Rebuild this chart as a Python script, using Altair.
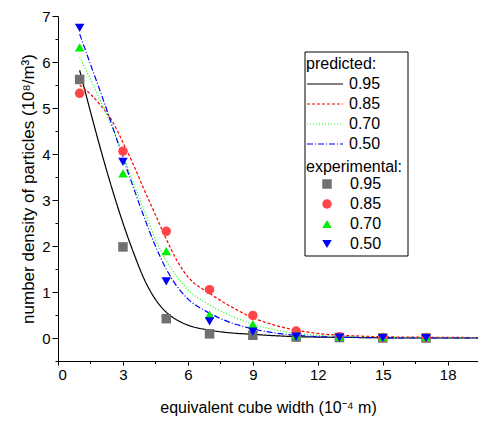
import altair as alt
import pandas as pd

levels = ["0.95", "0.85", "0.70", "0.50"]

# experimental points
x_exp = [1, 3, 5, 7, 9, 11, 13, 15, 17]
exp_095 = [5.62, 1.98, 0.42, 0.09, 0.06, 0.02, 0.01, 0.0, 0.0]
exp_085 = [5.32, 4.06, 2.32, 1.05, 0.49, 0.15, 0.03, 0.01, 0.01]
exp_070 = [6.32, 3.58, 1.89, 0.51, 0.30, 0.06, 0.03, 0.02, 0.02]
exp_050 = [6.74, 3.83, 1.23, 0.36, 0.14, 0.03, 0.01, 0.0, 0.0]

# predicted curves
curve_x = [1, 1.5, 2, 2.5, 3, 3.5, 4, 4.5, 5, 5.5, 6, 7, 8, 9, 10, 11, 12, 14, 16, 20]
pred_095 = [5.82, 4.92, 4.05, 3.24, 2.5, 1.84, 1.26, 0.84, 0.56, 0.39, 0.28, 0.17, 0.11, 0.08, 0.05, 0.03, 0.02, 0.01, 0.0, 0.0]
pred_085 = [5.5, 5.3, 5.04, 4.72, 4.25, 3.75, 3.2, 2.68, 2.15, 1.68, 1.33, 0.97, 0.68, 0.44, 0.28, 0.17, 0.1, 0.04, 0.02, 0.01]
pred_070 = [6.11, 5.62, 5.12, 4.58, 3.98, 3.35, 2.75, 2.15, 1.68, 1.33, 1.05, 0.72, 0.48, 0.3, 0.18, 0.1, 0.06, 0.02, 0.01, 0.0]
pred_050 = [6.61, 5.95, 5.3, 4.62, 3.92, 3.25, 2.6, 2.0, 1.5, 1.12, 0.85, 0.54, 0.33, 0.2, 0.11, 0.06, 0.03, 0.01, 0.0, 0.0]

x_major = [0, 3, 6, 9, 12, 15, 18]
x_minor = [1.5, 4.5, 7.5, 10.5, 13.5, 16.5]
y_major = [0, 1, 2, 3, 4, 5, 6, 7]
y_minor = [-0.5, 0.5, 1.5, 2.5, 3.5, 4.5, 5.5, 6.5]

line_colors = ["#000000", "#ff0000", "#00ff00", "#0000ff"]
line_dashes = [[1, 0], [3, 2], [1, 2], [6, 2, 1, 2]]
point_colors = ["#707070", "#ff4545", "#00ee00", "#0000ff"]
point_shapes = ["square", "circle", "triangle-up", "triangle-down"]

FONT = "Liberation Sans"

pred_rows = []
for lvl, ys in zip(levels, [pred_095, pred_085, pred_070, pred_050]):
    for xv, yv in zip(curve_x, ys):
        pred_rows.append({"x": xv, "y": yv, "pred": lvl})
pred_df = pd.DataFrame(pred_rows)

exp_rows = []
for lvl, ys in zip(levels, [exp_095, exp_085, exp_070, exp_050]):
    for xv, yv in zip(x_exp, ys):
        exp_rows.append({"x": xv, "y": yv, "exp": lvl})
exp_df = pd.DataFrame(exp_rows)

x_scale = alt.Scale(domain=[0, 19.4], nice=False, zero=False)
y_scale = alt.Scale(domain=[-0.5, 7], nice=False, zero=False)

pred_legend = alt.Legend(
    title="predicted:", orient="none", legendX=248, legendY=40, padding=0,
    titleFontSize=16, titleFontWeight="normal", titleFont=FONT, titleColor="black",
    labelFontSize=16, labelFont=FONT, labelColor="black",
    symbolType="M-1,0H3", symbolSize=324, symbolStrokeWidth=1.2,
    labelOffset=23, rowPadding=2, titlePadding=2,
)
exp_legend = alt.Legend(
    title="experimental:", orient="none", legendX=248, legendY=143, padding=0,
    titleFontSize=16, titleFontWeight="normal", titleFont=FONT, titleColor="black",
    labelFontSize=16, labelFont=FONT, labelColor="black",
    symbolSize=90, symbolOffset=13, labelOffset=15, rowPadding=4, titlePadding=1,
    symbolStrokeWidth=0,
)

lines = alt.Chart(pred_df).mark_line(interpolate="monotone", strokeWidth=1.2, clip=True).encode(
    x=alt.X("x:Q", scale=x_scale, axis=alt.Axis(
        values=x_major, title="equivalent cube width (10⁻⁴ m)", grid=False,
        tickSize=4, labelPadding=2, titlePadding=17, titleFontSize=16, orient="bottom")),
    y=alt.Y("y:Q", scale=y_scale, axis=alt.Axis(
        values=y_major, title="number density of particles (10⁸/m³)", grid=False,
        tickSize=6, labelPadding=2, titlePadding=4, titleFontSize=17, orient="left")),
    color=alt.Color("pred:N", scale=alt.Scale(domain=levels, range=line_colors), legend=pred_legend),
    strokeDash=alt.StrokeDash("pred:N", scale=alt.Scale(domain=levels, range=line_dashes), legend=pred_legend),
)

points = alt.Chart(exp_df).mark_point(filled=True, opacity=1, size=90, clip=True).encode(
    x=alt.X("x:Q", scale=x_scale, axis=alt.Axis(
        values=x_minor, labels=False, domain=False, grid=False, tickSize=2.5,
        title=None, orient="bottom")),
    y=alt.Y("y:Q", scale=y_scale, axis=alt.Axis(
        values=y_minor, labels=False, domain=False, grid=False, tickSize=3,
        title=None, orient="left")),
    color=alt.Color("exp:N", scale=alt.Scale(domain=levels, range=point_colors), legend=exp_legend),
    shape=alt.Shape("exp:N", scale=alt.Scale(domain=levels, range=point_shapes), legend=exp_legend),
)

box = alt.Chart(pd.DataFrame({"a": [0]})).mark_rect(
    fillOpacity=0, stroke="#000000", strokeWidth=1
).encode(
    x=alt.value(247), x2=alt.value(350), y=alt.value(36), y2=alt.value(240)
)

chart = alt.layer(box, lines, points).resolve_scale(
    color="independent", shape="independent", strokeDash="independent"
).resolve_axis(
    x="independent", y="independent"
).properties(
    width=420, height=345,
    autosize=alt.AutoSizeParams(type="none"),
    padding={"left": 50, "top": 8, "right": 0, "bottom": 58},
).configure_view(
    stroke=None
).configure_axis(
    domainColor="black", tickColor="black", labelColor="black", titleColor="black",
    labelFont=FONT, titleFont=FONT, labelFontSize=15, titleFontSize=16,
    titleFontWeight="normal", domainWidth=1, tickWidth=1,
)

chart.save("out.html", embed_options={"renderer": "svg", "actions": False})
